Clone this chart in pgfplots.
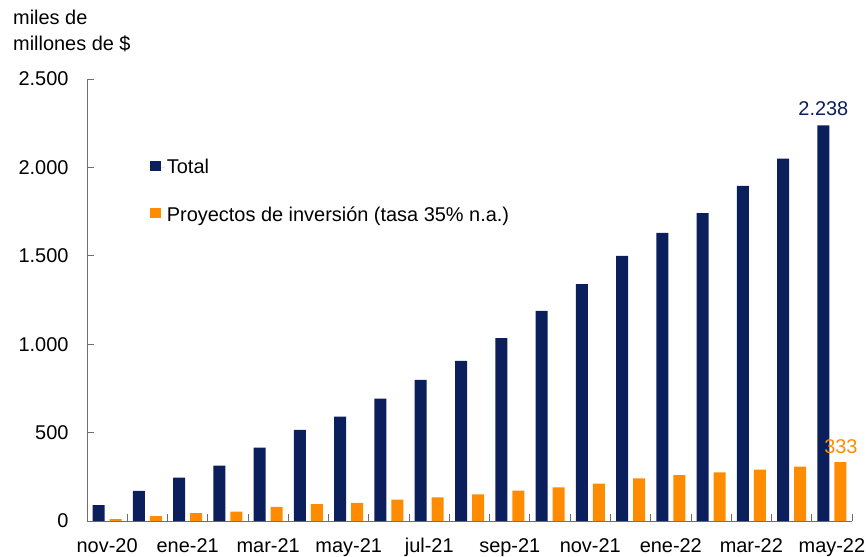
\documentclass[border=0pt]{standalone}
\usepackage{pgfplots}
\pgfplotsset{compat=1.18}
\usepackage{fontspec}
\setmainfont{Liberation Sans}
\definecolor{navy}{RGB}{10,31,91}
\definecolor{orng}{RGB}{255,140,0}
\definecolor{axgray}{RGB}{110,110,110}
\begin{document}
\begin{tikzpicture}
\path[use as bounding box] (-87bp,-36bp) rectangle (779bp,521bp);
\begin{axis}[
  at={(0,0)}, anchor=south west,
  scale only axis, width=765bp, height=442bp,
  xmin=-0.5, xmax=18.5, ymin=0, ymax=2500,
  axis lines*=left, axis line style={axgray, -, line width=0.8bp},
  ybar, bar width=12bp,
  ytick={0,500,1000,1500,2000,2500},
  tick align=inside, major tick length=7bp,
  ytick style={axgray, line width=0.8bp},
  xtick={-0.5,0.5,...,18.5}, xticklabels={},
  xtick style={axgray, line width=0.8bp},
  extra x ticks={0,2,...,18},
  extra x tick labels={nov-20,ene-21,mar-21,may-21,jul-21,sep-21,nov-21,ene-22,mar-22,may-22},
  extra x tick style={major tick length=0pt, xticklabel style={yshift=-14bp}},
  /pgf/number format/assume math mode=true,
  /pgf/number format/.cd, 1000 sep={.}, /pgfplots/.cd,
  tick label style={font=\fontsize{20}{22}\selectfont, black},
  yticklabel style={xshift=-15bp},
  legend style={at={(0.082,0.823)}, anchor=north west, draw=none, fill=none,
    inner sep=0pt, row sep=27bp, font=\fontsize{20}{22}\selectfont,
    cells={anchor=west}},
  legend image code/.code={\fill[#1] (0bp,-4bp) rectangle (11bp,6bp); \path (0bp,0bp) -- (15bp,0bp);},
  clip=false,
]
\addplot[fill=navy, draw=none, bar shift=-8.5bp] coordinates {
(0,90) (1,170) (2,245) (3,313) (4,415) (5,515) (6,590) (7,692) (8,798) (9,905)
(10,1035) (11,1188) (12,1340) (13,1499) (14,1629) (15,1742) (16,1895) (17,2049) (18,2238)};
\addlegendentry{Total}
\addplot[fill=orng, draw=none, bar shift=8.5bp] coordinates {
(0,10) (1,28) (2,45) (3,53) (4,80) (5,96) (6,102) (7,121) (8,133) (9,150)
(10,172) (11,190) (12,211) (13,241) (14,260) (15,275) (16,291) (17,308) (18,333)};
\addlegendentry{Proyectos de inversión (tasa 35\% n.a.)}
\node[anchor=south, xshift=-8.5bp, yshift=6bp, text=navy, font=\fontsize{20}{22}\selectfont] at (axis cs:18,2238) {2.238};
\node[anchor=south, xshift=9bp, yshift=5bp, text=orng, font=\fontsize{20}{22}\selectfont] at (axis cs:18,333) {333};
\node[anchor=north west, align=left, inner sep=0pt, font=\fontsize{20}{26}\selectfont] at ([xshift=-74bp,yshift=69bp]rel axis cs:0,1) {miles de\\millones de \$};
\end{axis}
\end{tikzpicture}
\end{document}
